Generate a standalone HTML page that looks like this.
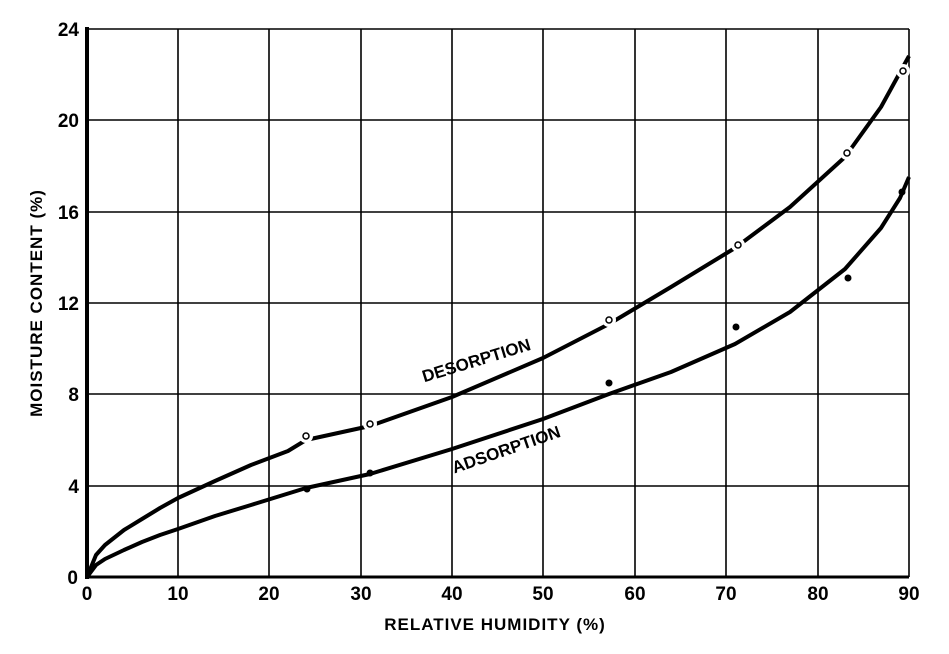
<!DOCTYPE html>
<html><head><style>body{margin:0;background:#fff}</style></head><body>
<svg width="949" height="649" xmlns="http://www.w3.org/2000/svg" font-family="Liberation Sans, sans-serif" font-weight="bold">
<g stroke="#000" stroke-width="1.6">
<line x1="178" y1="29" x2="178" y2="577"/><line x1="269" y1="29" x2="269" y2="577"/><line x1="361" y1="29" x2="361" y2="577"/><line x1="452" y1="29" x2="452" y2="577"/><line x1="543" y1="29" x2="543" y2="577"/><line x1="635" y1="29" x2="635" y2="577"/><line x1="726" y1="29" x2="726" y2="577"/><line x1="818" y1="29" x2="818" y2="577"/><line x1="909" y1="29" x2="909" y2="577"/>
<line x1="87" y1="29" x2="909" y2="29"/><line x1="87" y1="120" x2="909" y2="120"/><line x1="87" y1="212" x2="909" y2="212"/><line x1="87" y1="303" x2="909" y2="303"/><line x1="87" y1="394" x2="909" y2="394"/><line x1="87" y1="486" x2="909" y2="486"/>
</g>
<line x1="87" y1="27" x2="87" y2="579" stroke="#000" stroke-width="4"/>
<line x1="85" y1="577" x2="909" y2="577" stroke="#000" stroke-width="3"/>
<g fill="none" stroke="#000" stroke-width="4" stroke-linejoin="round">
<polyline points="87,577 96,555 105,545 124,530 142,519 160,508 178,498 215,481 251,465 288,451 306,440 370,426 452,397 543,358 609,324 671,287 735,248 790,207 845,157 881,107 909,56"/>
<polyline points="87,577 96,565 105,559 124,550 142,542 160,535 178,529 215,516 251,505 306,488 370,474 452,449 543,419 609,394 671,372 735,344 790,312 845,269 881,228 900,198 909,177"/>
</g>
<g stroke="#fff" stroke-width="6" fill="#fff"><circle cx="306" cy="436" r="4"/><circle cx="370" cy="424" r="4"/><circle cx="609" cy="320" r="4"/><circle cx="738" cy="245" r="4"/><circle cx="847" cy="153" r="4"/><circle cx="903" cy="71" r="4"/></g>
<g stroke="#000" stroke-width="1.5" fill="#fff"><circle cx="306" cy="436" r="3"/><circle cx="370" cy="424" r="3"/><circle cx="609" cy="320" r="3"/><circle cx="738" cy="245" r="3"/><circle cx="847" cy="153" r="3"/><circle cx="903" cy="71" r="3"/></g>
<g fill="#000"><circle cx="307" cy="489" r="3.5"/><circle cx="370" cy="473" r="3.5"/><circle cx="609" cy="383" r="3.5"/><circle cx="736" cy="327" r="3.5"/><circle cx="848" cy="278" r="3.5"/><circle cx="902" cy="192" r="3.5"/></g>
<g font-size="19" text-anchor="end"><text x="79" y="36">24</text><text x="79" y="127">20</text><text x="79" y="219">16</text><text x="79" y="310">12</text><text x="79" y="401">8</text><text x="79" y="493">4</text><text x="78" y="584">0</text></g>
<g font-size="19" text-anchor="middle"><text x="87" y="600">0</text><text x="178" y="600">10</text><text x="269" y="600">20</text><text x="361" y="600">30</text><text x="452" y="600">40</text><text x="543" y="600">50</text><text x="635" y="600">60</text><text x="726" y="600">70</text><text x="818" y="600">80</text><text x="909" y="600">90</text></g>
<text x="495" y="630" font-size="17" text-anchor="middle" letter-spacing="1">RELATIVE  HUMIDITY (%)</text>
<text transform="translate(42,303) rotate(-90)" font-size="17" text-anchor="middle" letter-spacing="1">MOISTURE  CONTENT (%)</text>
<text transform="translate(478,366) rotate(-17)" font-size="17" text-anchor="middle">DESORPTION</text>
<text transform="translate(508,455) rotate(-19)" font-size="17" text-anchor="middle">ADSORPTION</text>
</svg></body></html>
